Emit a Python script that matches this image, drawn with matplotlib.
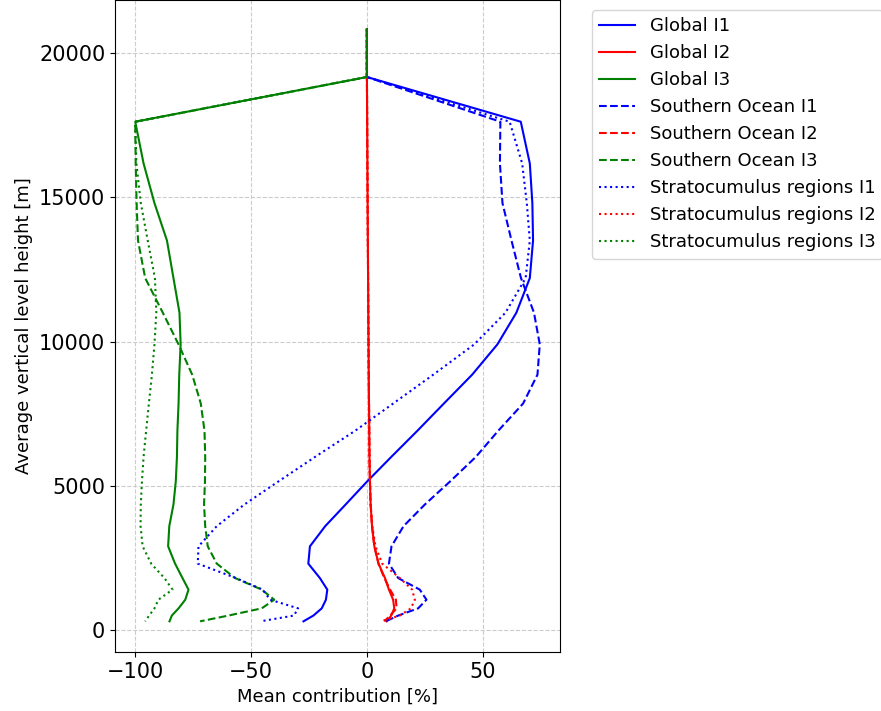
import matplotlib
matplotlib.use("Agg")
import matplotlib.pyplot as plt

# average height of each vertical level [m]
height = [20830, 19170, 17620, 16175, 14800, 13500, 12200, 11000, 9900, 8850,
          7850, 6900, 6000, 5150, 4350, 3600, 2900, 2300, 1800, 1400,
          1050, 750, 500, 300]

# mean contribution [%] per level
global_i1 = [0, 0, 66.4, 70.3, 71.4, 71.7, 70.3, 64.5, 56.3, 45.4,
             33.2, 21.7, 10.5, 0.1, -9.2, -18.0, -24.6, -25.3, -20.3, -17.1,
             -17.7, -19.5, -23.1, -27.4]
global_i2 = [0, 0, 0.1, 0.2, 0.3, 0.4, 0.5, 0.6, 0.7, 0.8,
             0.9, 1.0, 1.1, 1.3, 1.6, 2.2, 3.2, 5.0, 7.8, 9.5,
             11.3, 11.8, 10.5, 8.5]
global_i3 = [0, 0, -100, -96.4, -91.7, -86.3, -83.5, -80.9, -80.4, -81.0,
             -81.3, -81.8, -82.0, -82.5, -83.5, -85.3, -85.8, -82.8, -79.6, -77.0,
             -78.4, -81.3, -84.2, -85.2]

so_i1 = [0, 0, 57.6, 57.4, 58.5, 62.4, 66.5, 72.1, 74.6, 73.6,
         67.4, 56.6, 47.0, 35.9, 25.0, 15.8, 10.6, 9.5, 13.5, 22.8,
         25.7, 22.1, 13.5, 8.1]
so_i2 = [0, 0, 0.1, 0.2, 0.3, 0.4, 0.5, 0.6, 0.7, 0.8,
         0.9, 1.0, 1.1, 1.3, 1.6, 2.2, 3.2, 5.0, 7.5, 10.0,
         12.5, 12.8, 10.0, 7.5]
so_i3 = [0, 0, -100, -99.8, -99.4, -98.8, -95.7, -88.1, -81.3, -75.4,
         -71.7, -70.1, -69.8, -69.9, -70.3, -69.8, -68.7, -64.8, -56.9, -45.4,
         -40.0, -45.4, -59.8, -72.0]

sc_i1 = [0, 0, 61.6, 67.0, 69.0, 70.3, 68.5, 59.8, 46.3, 28.6,
         11.3, -5.2, -22.4, -38.2, -52.9, -64.8, -72.7, -73.0, -56.5, -45.0,
         -41.8, -29.7, -31.5, -46.0]
sc_i2 = [0, 0, 0.1, 0.2, 0.3, 0.4, 0.5, 0.6, 0.7, 0.8,
         0.9, 1.0, 1.1, 1.3, 1.6, 2.3, 3.7, 6.6, 14.2, 19.5,
         20.7, 19.0, 14.2, 6.0]
sc_i3 = [0, 0, -100, -99.5, -97.6, -94.6, -91.5, -90.9, -91.7, -92.8,
         -94.1, -95.3, -96.4, -97.1, -97.6, -97.7, -96.8, -93.1, -87.4, -83.9,
         -90.0, -91.7, -94.0, -95.7]


def main():
    fig = plt.figure(figsize=(8.81, 7.11), dpi=100)
    ax = fig.add_axes([115 / 881, 59 / 711, 445 / 881, 652 / 711])

    series = [
        (global_i1, "Global I1", "blue", "-"),
        (global_i2, "Global I2", "red", "-"),
        (global_i3, "Global I3", "green", "-"),
        (so_i1, "Southern Ocean I1", "blue", "--"),
        (so_i2, "Southern Ocean I2", "red", "--"),
        (so_i3, "Southern Ocean I3", "green", "--"),
        (sc_i1, "Stratocumulus regions I1", "blue", ":"),
        (sc_i2, "Stratocumulus regions I2", "red", ":"),
        (sc_i3, "Stratocumulus regions I3", "green", ":"),
    ]
    for values, label, color, ls in series:
        ax.plot(values, height, color=color, linestyle=ls, label=label, linewidth=1.5)

    ax.set_ylim(-763, 21840)
    ax.grid(True, linestyle="--", color="#cccccc", linewidth=0.8)
    ax.set_xlabel("Mean contribution [%]", fontsize=13)
    ax.set_ylabel("Average vertical level height [m]", fontsize=13)
    ax.tick_params(labelsize=15)

    ax.legend(loc="upper left", bbox_to_anchor=(592 / 881, 1 - 10 / 711),
              bbox_transform=fig.transFigure, borderaxespad=0, fontsize=13)

    fig.savefig("out.png", dpi=100)


if __name__ == "__main__":
    main()
